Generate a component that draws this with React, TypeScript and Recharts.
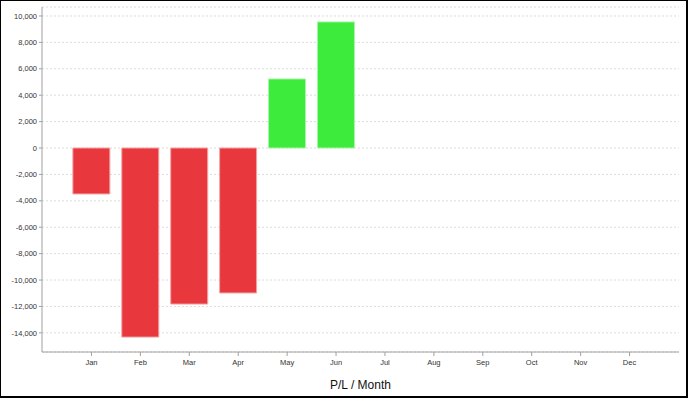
import { BarChart, Bar, XAxis, YAxis, CartesianGrid, Cell } from "recharts";

const months = ["Jan", "Feb", "Mar", "Apr", "May", "Jun", "Jul", "Aug", "Sep", "Oct", "Nov", "Dec"];
const pnl = [-3480, -14320, -11820, -10980, 5230, 9550, null, null, null, null, null, null];
const yTicks = [-14000, -12000, -10000, -8000, -6000, -4000, -2000, 0, 2000, 4000, 6000, 8000, 10000];

const data = months.map((m, i) => ({ month: m, pl: pnl[i] }));

const tickFont = { fontFamily: "'Liberation Sans', Arial, sans-serif", fontSize: 7.5, fill: "#333" };

export default function App() {
  return (
    <div style={{ position: "absolute", left: 0, top: 0, width: 688, height: 398, background: "#fff" }}>
      <BarChart
        width={688}
        height={398}
        data={data}
        margin={{ top: 7, right: 9, left: 0, bottom: 0 }}
        barCategoryGap="12%"
      >
        <CartesianGrid vertical={false} stroke="#dcdcdc" strokeDasharray="2 2" />
        <XAxis
          dataKey="month"
          height={46}
          padding={{ left: 25, right: 25 }}
          tick={tickFont}
          tickSize={4}
          tickMargin={4}
          stroke="#a0a0a0"
          interval={0}
          label={{
            value: "P/L / Month",
            position: "insideBottom",
            offset: 9,
            style: { fontFamily: "'Liberation Sans', Arial, sans-serif", fontSize: 12, fill: "#111" },
          }}
        />
        <XAxis xAxisId="top" dataKey="month" orientation="top" height={0} tick={false} tickLine={false} stroke="#b0b0b0" />
        <YAxis
          width={42}
          domain={[-15450, 10680]}
          ticks={yTicks}
          allowDataOverflow
          tick={tickFont}
          tickSize={3}
          tickMargin={2}
          stroke="#a0a0a0"
          tickFormatter={(v: number) => v.toLocaleString("en-US")}
        />
        <YAxis yAxisId="right" orientation="right" width={0} tick={false} tickLine={false} stroke="#b0b0b0" />
        <Bar dataKey="pl" isAnimationActive={false} strokeWidth={1}>
          {data.map((d, i) => (
            <Cell
              key={i}
              fill={(d.pl ?? 0) < 0 ? "#E8383D" : "#3DEB3D"}
              stroke={(d.pl ?? 0) < 0 ? "#F3A5A7" : "#A8F5A8"}
            />
          ))}
        </Bar>
      </BarChart>
      <div
        style={{
          position: "absolute",
          left: 0,
          top: 0,
          width: 688,
          height: 398,
          boxSizing: "border-box",
          borderTop: "1px solid #000",
          borderLeft: "1px solid #000",
          borderRight: "2px solid #000",
          borderBottom: "2px solid #000",
          pointerEvents: "none",
        }}
      />
    </div>
  );
}
